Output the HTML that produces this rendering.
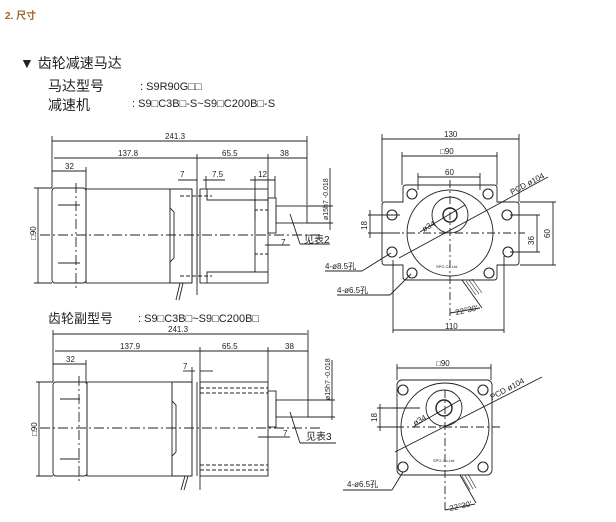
<!DOCTYPE html>
<html><head><meta charset="utf-8"><style>
html,body{margin:0;padding:0;background:#fff;}
svg{display:block;}
text{font-family:"Liberation Sans","Noto Sans CJK SC",sans-serif;fill:#222;}
.s{font-size:8px;}
</style></head><body>
<svg width="616" height="522" viewBox="0 0 616 522" xmlns="http://www.w3.org/2000/svg">
<g stroke="#222" stroke-width="0.9" fill="none">
<!-- ============ TOP SIDE VIEW ============ -->
<line x1="52" y1="141" x2="307" y2="141"/><line x1="52" y1="136" x2="52" y2="188"/><line x1="307" y1="136" x2="307" y2="205"/>
<line x1="54" y1="158" x2="307" y2="158"/><line x1="197" y1="154" x2="197" y2="295"/><line x1="268" y1="154" x2="268" y2="189"/>
<line x1="52" y1="171" x2="86" y2="171"/><line x1="86" y1="167" x2="86" y2="189"/>
<line x1="178" y1="180" x2="197" y2="180"/><line x1="203" y1="180" x2="225" y2="180"/><line x1="206" y1="176" x2="206" y2="189"/>
<line x1="250" y1="180" x2="275" y2="180"/><line x1="255" y1="176" x2="255" y2="220"/><line x1="275" y1="176" x2="275" y2="198"/>
<line x1="34" y1="188" x2="52" y2="188"/><line x1="34" y1="283" x2="52" y2="283"/><line x1="38" y1="188" x2="38" y2="283"/>
<rect x="52" y="188" width="34" height="95" rx="3"/>
<rect x="86" y="189" width="84" height="94"/>
<path d="M170 189 H192 V283 H170 V262 L174 258 V212 L170 208 Z"/>
<line x1="192" y1="189" x2="192" y2="283"/><line x1="197" y1="189" x2="197" y2="283"/>
<rect x="200" y="189" width="68" height="94"/>
<path d="M207 189 V200 H268 M207 283 V272 H268"/>
<path d="M255 200 V272"/>
<rect x="268" y="198" width="8" height="35"/>
<rect x="276" y="206" width="31" height="17"/>
<line x1="180" y1="196" x2="212" y2="196" stroke-dasharray="4 2"/><line x1="180" y1="276" x2="212" y2="276" stroke-dasharray="4 2"/>
<line x1="255" y1="210" x2="268" y2="210" stroke-dasharray="3 2"/><line x1="255" y1="254" x2="268" y2="254" stroke-dasharray="3 2"/>
<line x1="58" y1="205" x2="80" y2="205"/><line x1="58" y1="263" x2="80" y2="263"/>
<line x1="40" y1="235" x2="320" y2="235" stroke-dasharray="10 3 2 3"/>
<line x1="76" y1="183" x2="76" y2="290" stroke-dasharray="10 3 2 3"/>
<line x1="180" y1="283" x2="176" y2="300"/><line x1="183" y1="283" x2="179" y2="300"/>
<line x1="307" y1="206" x2="333" y2="206"/><line x1="307" y1="223" x2="333" y2="223"/>
<line x1="330" y1="168" x2="330" y2="230"/>
<line x1="265" y1="245" x2="290" y2="245"/>
<line x1="290" y1="214" x2="300" y2="244"/><line x1="300" y1="244" x2="330" y2="244"/>

<!-- ============ TOP FRONT VIEW ============ -->
<line x1="382" y1="139" x2="519" y2="139"/><line x1="382" y1="134" x2="382" y2="202"/><line x1="519" y1="134" x2="519" y2="202"/>
<line x1="402" y1="156" x2="497" y2="156"/><line x1="402" y1="152" x2="402" y2="185"/><line x1="497" y1="152" x2="497" y2="185"/>
<line x1="418" y1="177" x2="480" y2="177"/><line x1="418" y1="173" x2="418" y2="190"/><line x1="480" y1="173" x2="480" y2="190"/>
<path d="M403 202 V188 Q403 185 406 185 H494 Q497 185 497 188 V202 H516 Q519 202 519 205 V262 Q519 265 516 265 H497 V277 Q497 280 494 280 H406 Q403 280 403 277 V265 H385 Q382 265 382 262 V205 Q382 202 385 202 Z"/>
<circle cx="450" cy="233" r="43"/>
<circle cx="450" cy="215" r="18"/>
<circle cx="450" cy="215" r="7" stroke-width="1.4"/>
<g stroke-width="1.1">
<circle cx="412" cy="194" r="5"/><circle cx="488" cy="194" r="5"/>
<circle cx="392" cy="215" r="5"/><circle cx="507" cy="215" r="5"/>
<circle cx="392" cy="252" r="5"/><circle cx="508" cy="252" r="5"/>
<circle cx="412" cy="273" r="5"/><circle cx="489" cy="273" r="5"/>
</g>
<line x1="375" y1="233" x2="525" y2="233" stroke-dasharray="8 3 2 3"/>
<line x1="450" y1="180" x2="450" y2="320" stroke-dasharray="8 3 2 3"/>
<line x1="399" y1="258" x2="548" y2="177"/>
<line x1="420" y1="232" x2="465" y2="205"/>
<line x1="368" y1="215" x2="400" y2="215"/><line x1="368" y1="233" x2="400" y2="233"/><line x1="370" y1="210" x2="370" y2="238"/>
<line x1="510" y1="215" x2="540" y2="215"/><line x1="510" y1="252" x2="540" y2="252"/><line x1="537" y1="215" x2="537" y2="252"/>
<line x1="520" y1="202" x2="556" y2="202"/><line x1="520" y1="265" x2="556" y2="265"/><line x1="553" y1="202" x2="553" y2="265"/>
<line x1="393" y1="260" x2="393" y2="333"/><line x1="504" y1="256" x2="504" y2="333"/>
<line x1="393" y1="330" x2="504" y2="330"/>
<line x1="325" y1="271" x2="362" y2="271"/><line x1="362" y1="271" x2="391" y2="253"/>
<line x1="337" y1="295" x2="390" y2="295"/><line x1="390" y1="295" x2="411" y2="274"/>
<line x1="450" y1="313" x2="480" y2="308"/><path d="M462 280 L482 308"/>
<g stroke-width="0.6"><line x1="466" y1="281" x2="476" y2="295"/><line x1="469" y1="280" x2="479" y2="294"/><line x1="472" y1="279" x2="482" y2="293"/></g>

<!-- ============ BOTTOM SIDE VIEW ============ -->
<line x1="53" y1="334" x2="307" y2="334"/><line x1="53" y1="330" x2="53" y2="382"/><line x1="308" y1="330" x2="308" y2="400"/>
<line x1="55" y1="351" x2="308" y2="351"/><line x1="200" y1="347" x2="200" y2="490"/><line x1="268" y1="347" x2="268" y2="382"/>
<line x1="53" y1="364" x2="86" y2="364"/><line x1="86" y1="360" x2="86" y2="382"/>
<line x1="183" y1="371" x2="195" y2="371"/><line x1="200" y1="371" x2="213" y2="371"/><line x1="192" y1="367" x2="192" y2="382"/>
<line x1="36" y1="382" x2="53" y2="382"/><line x1="36" y1="476" x2="53" y2="476"/><line x1="39" y1="382" x2="39" y2="476"/>
<rect x="53" y="382" width="34" height="94" rx="3"/>
<rect x="87" y="382" width="85" height="94"/>
<path d="M172 382 H192 V476 H172 V456 L176 452 V405 L172 401 Z"/>
<line x1="192" y1="382" x2="192" y2="476"/><line x1="197" y1="382" x2="197" y2="476"/>
<rect x="200" y="382" width="68" height="94"/>
<line x1="200" y1="388" x2="268" y2="388" stroke-dasharray="4 2"/><line x1="200" y1="393" x2="268" y2="393" stroke-dasharray="4 2"/>
<line x1="200" y1="465" x2="268" y2="465" stroke-dasharray="4 2"/><line x1="200" y1="470" x2="268" y2="470" stroke-dasharray="4 2"/>
<rect x="268" y="391" width="8" height="36"/>
<rect x="276" y="400" width="32" height="17"/>
<line x1="60" y1="399" x2="80" y2="399"/><line x1="60" y1="459" x2="80" y2="459"/>
<line x1="40" y1="428" x2="320" y2="428" stroke-dasharray="10 3 2 3"/>
<line x1="79" y1="376" x2="79" y2="482" stroke-dasharray="10 3 2 3"/>
<line x1="185" y1="476" x2="181" y2="490"/><line x1="188" y1="476" x2="184" y2="490"/>
<line x1="308" y1="400" x2="335" y2="400"/><line x1="308" y1="417" x2="335" y2="417"/>
<line x1="332" y1="360" x2="332" y2="420"/>
<line x1="258" y1="437" x2="290" y2="437"/>
<line x1="290" y1="412" x2="300" y2="443"/><line x1="300" y1="443" x2="336" y2="443"/>

<!-- ============ BOTTOM FRONT VIEW ============ -->
<line x1="397" y1="368" x2="491" y2="368"/><line x1="397" y1="364" x2="397" y2="380"/><line x1="491" y1="364" x2="491" y2="380"/>
<rect x="397" y="380" width="95" height="95" rx="5"/>
<circle cx="445" cy="427" r="44"/>
<circle cx="444" cy="408" r="18"/>
<circle cx="444" cy="408" r="8" stroke-width="1.4"/>
<g stroke-width="1.1">
<circle cx="403" cy="390" r="5"/><circle cx="483" cy="390" r="5"/>
<circle cx="403" cy="467" r="5"/><circle cx="483" cy="467" r="5"/>
</g>
<line x1="380" y1="427" x2="500" y2="427" stroke-dasharray="8 3 2 3"/>
<line x1="445" y1="390" x2="445" y2="512" stroke-dasharray="8 3 2 3"/>
<line x1="395" y1="452" x2="542" y2="377"/>
<line x1="413" y1="427" x2="460" y2="400"/>
<line x1="377" y1="408" x2="420" y2="408"/><line x1="377" y1="427" x2="400" y2="427"/><line x1="380" y1="404" x2="380" y2="431"/>
<line x1="343" y1="490" x2="392" y2="490"/><line x1="392" y1="490" x2="403" y2="472"/>
<line x1="445" y1="510" x2="475" y2="504"/><path d="M460 475 L476 503"/>
<g stroke-width="0.6"><line x1="462" y1="476" x2="470" y2="490"/><line x1="465" y1="475" x2="473" y2="489"/><line x1="468" y1="474" x2="476" y2="488"/></g>
</g>

<text x="5" y="19" style="font-size:10px;font-weight:bold;fill:#a0622a">2. 尺寸</text>
<text x="20" y="68" style="font-size:14px">▼ 齿轮减速马达</text>
<text x="48" y="91" style="font-size:14px">马达型号</text>
<text x="140" y="90" style="font-size:11px">: S9R90G□□</text>
<text x="48" y="110" style="font-size:14px">减速机</text>
<text x="132" y="107" style="font-size:11px">: S9□C3B□-S~S9□C200B□-S</text>
<text x="48" y="323" style="font-size:13px">齿轮副型号</text>
<text x="138" y="322" style="font-size:11px">: S9□C3B□~S9□C200B□</text>

<g class="s">
<text x="165" y="139">241.3</text><text x="118" y="156">137.8</text><text x="222" y="156">65.5</text><text x="280" y="156">38</text>
<text x="65" y="169">32</text><text x="180" y="177">7</text><text x="212" y="177">7.5</text><text x="258" y="177">12</text>
<text x="281" y="245">7</text>
<text x="304" y="243" style="font-size:10px">见表2</text>
<text transform="translate(36,240) rotate(-90)">□90</text>
<text transform="translate(328,220) rotate(-90)" style="font-size:7px">ø15h7 -0.018</text>
<text x="444" y="137">130</text><text x="440" y="154">□90</text><text x="445" y="175">60</text>
<text transform="translate(367,230) rotate(-90)">18</text>
<text transform="translate(534,245) rotate(-90)">36</text>
<text transform="translate(550,238) rotate(-90)">60</text>
<text transform="translate(512,195) rotate(-28)">PCD ø104</text>
<text transform="translate(424,232) rotate(-30)">ø34</text>
<text x="436" y="268" style="font-size:4px">SPG Co.Ltd</text>
<text x="445" y="329">110</text>
<text transform="translate(456,315) rotate(-12)">22°30'</text>
<text x="325" y="269">4-ø8.5孔</text>
<text x="337" y="293">4-ø6.5孔</text>

<text x="168" y="332">241.3</text><text x="120" y="349">137.9</text><text x="222" y="349">65.5</text><text x="285" y="349">38</text>
<text x="66" y="362">32</text><text x="183" y="369">7</text><text x="283" y="436">7</text>
<text x="306" y="440" style="font-size:10px">见表3</text>
<text transform="translate(37,436) rotate(-90)">□90</text>
<text transform="translate(330,400) rotate(-90)" style="font-size:7px">ø15h7 -0.018</text>
<text x="436" y="366">□90</text>
<text transform="translate(377,422) rotate(-90)">18</text>
<text transform="translate(492,400) rotate(-28)">PCD ø104</text>
<text transform="translate(415,426) rotate(-30)">ø34</text>
<text x="433" y="462" style="font-size:4px">SPG Co.Ltd</text>
<text transform="translate(450,511) rotate(-12)">22°30'</text>
<text x="347" y="487">4-ø6.5孔</text>
</g>
</svg>
</body></html>
